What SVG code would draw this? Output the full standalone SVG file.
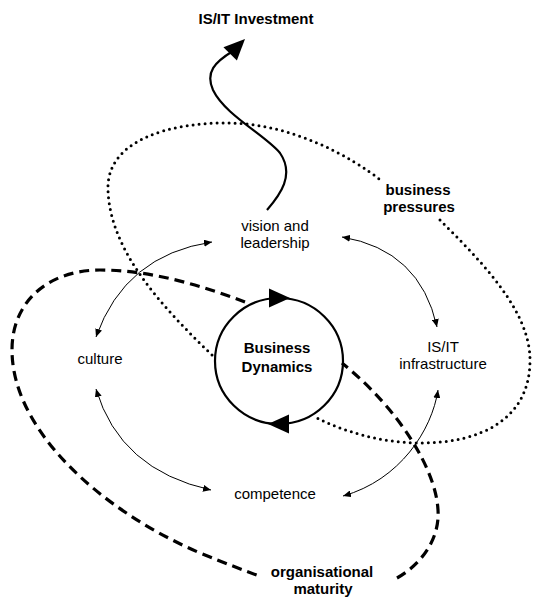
<svg xmlns="http://www.w3.org/2000/svg" xmlns:xlink="http://www.w3.org/1999/xlink" width="533" height="597" viewBox="0 0 533 597">
<style>
  text { font-family: "Liberation Sans", Arial, sans-serif; font-size: 15px; fill: #000; text-anchor: middle; }
  .b { font-weight: bold; }
  .thin { fill: none; stroke: #000; stroke-width: 1; marker-start: url(#sm); marker-end: url(#sm); }
  .dot { fill: none; stroke: #000; stroke-width: 3; stroke-linecap: round; stroke-dasharray: 0 6; }
  .dash { fill: none; stroke: #000; stroke-width: 3.2; stroke-dasharray: 10 6; }
  .thick { fill: none; stroke: #000; stroke-width: 2.2; }
</style>
<defs>
  <marker id="sm" markerUnits="userSpaceOnUse" markerWidth="9" markerHeight="7" refX="8" refY="3.5" orient="auto-start-reverse">
    <path d="M0,0 L8,3.5 L0,7 Z" fill="#000"/>
  </marker>
  <path id="bigArrow" d="M0,0 L-21,-9.5 L-21,9.5 Z" fill="#000"/>
</defs>
<rect width="533" height="597" fill="#fff"/>

<g id="loops">
  <path class="dot" d="M212,355 C160,305 110,250 108,190 C106,140 170,122 230,123 C290,124 350,155 383,182"/>
  <path class="dot" d="M440,220 C480,260 530,310 530,360 C530,420 480,443 420,443 C380,443 340,430 317,418"/>
  <path class="dash" d="M245,302 C200,285 150,270 100,270 C50,270 12,300 12,350 C12,430 100,510 200,553 C225,563 245,571 262,577"/>
  <path class="dash" d="M397,578 C420,565 440,540 438,510 C436,470 400,410 342,363"/>
</g>

<g id="connectors">
  <path class="thin" d="M96,337 Q125,255 212,242"/>
  <path class="thin" d="M342,237 Q420,250 437,327"/>
  <path class="thin" d="M96,389 Q120,470 211,490"/>
  <path class="thin" d="M438,390 C432,430 400,480 343,496"/>
  <path class="thick" d="M267,210 C280,195 295,175 280,153 C265,135 225,115 213,90 C205,72 215,62 233,51"/>
  <use xlink:href="#bigArrow" transform="translate(245,39) rotate(-45)"/>
</g>

<g id="business-dynamics">
  <ellipse class="thick" cx="279" cy="361" rx="64" ry="63"/>
  <use xlink:href="#bigArrow" transform="translate(290,298)"/>
  <use xlink:href="#bigArrow" transform="translate(268,424) rotate(180)"/>
  <text class="b" x="277" y="353">Business</text>
  <text class="b" x="277" y="372">Dynamics</text>
</g>

<g id="investment"><text class="b" x="256" y="24">IS/IT Investment</text></g>
<g id="vision"><text x="275" y="231">vision and</text><text x="275" y="248">leadership</text></g>
<g id="culture"><text x="100" y="364">culture</text></g>
<g id="infrastructure"><text x="443" y="352">IS/IT</text><text x="443" y="369">infrastructure</text></g>
<g id="competence"><text x="275" y="499">competence</text></g>
<g id="pressures"><text class="b" x="418" y="195">business</text><text class="b" x="419" y="212">pressures</text></g>
<g id="maturity"><text class="b" x="322" y="577">organisational</text><text class="b" x="323" y="594">maturity</text></g>
</svg>
